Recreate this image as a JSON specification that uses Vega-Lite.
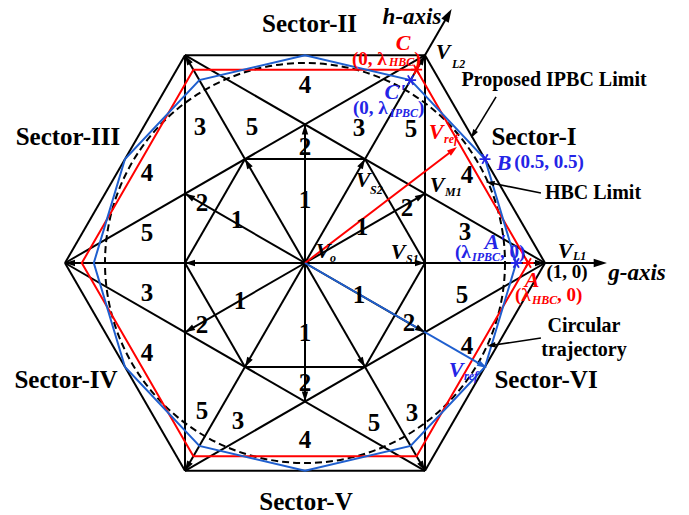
{
  "$schema": "https://vega.github.io/schema/vega-lite/v6.json",
  "width": 689,
  "height": 515,
  "autosize": "none",
  "padding": 0,
  "background": "white",
  "config": {"view": {"stroke": null}},
  "datasets": {
    "segs": [
      {"x":1,"y":0,"x2":0.5,"y2":0.866,"k":"m"},
      {"x":0.5,"y":0.866,"x2":-0.5,"y2":0.866,"k":"m"},
      {"x":-0.5,"y":0.866,"x2":-1,"y2":0,"k":"m"},
      {"x":-1,"y":0,"x2":-0.5,"y2":-0.866,"k":"m"},
      {"x":-0.5,"y":-0.866,"x2":0.5,"y2":-0.866,"k":"m"},
      {"x":0.5,"y":-0.866,"x2":1,"y2":0,"k":"m"},
      {"x":1,"y":0,"x2":-0.5,"y2":0.866,"k":"m"},
      {"x":0.5,"y":0.866,"x2":-1,"y2":0,"k":"m"},
      {"x":-0.5,"y":0.866,"x2":-0.5,"y2":-0.866,"k":"m"},
      {"x":-1,"y":0,"x2":0.5,"y2":-0.866,"k":"m"},
      {"x":-0.5,"y":-0.866,"x2":1,"y2":0,"k":"m"},
      {"x":0.5,"y":-0.866,"x2":0.5,"y2":0.866,"k":"m"},
      {"x":0.5,"y":0,"x2":0.25,"y2":0.433,"k":"m"},
      {"x":0.25,"y":0.433,"x2":-0.25,"y2":0.433,"k":"m"},
      {"x":-0.25,"y":0.433,"x2":-0.5,"y2":0,"k":"m"},
      {"x":-0.5,"y":0,"x2":-0.25,"y2":-0.433,"k":"m"},
      {"x":-0.25,"y":-0.433,"x2":0.25,"y2":-0.433,"k":"m"},
      {"x":0.25,"y":-0.433,"x2":0.5,"y2":0,"k":"m"},
      {"x":0,"y":0,"x2":-0.5,"y2":0.866,"k":"m"},
      {"x":0,"y":0,"x2":-0.5,"y2":-0.866,"k":"m"},
      {"x":0,"y":0,"x2":0.5,"y2":-0.866,"k":"m"},
      {"x":0,"y":0,"x2":0.5,"y2":0.2887,"k":"m"},
      {"x":0,"y":0,"x2":0,"y2":0.5774,"k":"m"},
      {"x":0,"y":0,"x2":-0.5,"y2":0.2887,"k":"m"},
      {"x":0,"y":0,"x2":-0.5,"y2":-0.2887,"k":"m"},
      {"x":0,"y":0,"x2":0,"y2":-0.5774,"k":"m"},
      {"x":0,"y":0,"x2":0.5,"y2":-0.2887,"k":"m"},
      {"x":-1,"y":0,"x2":1.24,"y2":0,"k":"m"},
      {"x":0,"y":0,"x2":0.602,"y2":1.043,"k":"m"},
      {"x":0.796,"y":0.692,"x2":0.7,"y2":0.535,"k":"t"},
      {"x":0.983,"y":0.292,"x2":0.77,"y2":0.334,"k":"t"},
      {"x":0.983,"y":-0.3125,"x2":0.774,"y2":-0.344,"k":"t"},
      {"x":0,"y":0,"x2":0.62,"y2":0.473,"k":"r"},
      {"x":0,"y":0,"x2":0.743,"y2":-0.429,"k":"b"}
    ],
    "heads": [
      {"x":1,"y":0,"dir":0,"k":"m"},
      {"x":0.5,"y":0.866,"dir":60,"k":"m"},
      {"x":-0.5,"y":0.866,"dir":120,"k":"m"},
      {"x":-1,"y":0,"dir":180,"k":"m"},
      {"x":-0.5,"y":-0.866,"dir":240,"k":"m"},
      {"x":0.5,"y":-0.866,"dir":300,"k":"m"},
      {"x":0.5,"y":0,"dir":0,"k":"m"},
      {"x":0.25,"y":0.433,"dir":60,"k":"m"},
      {"x":-0.25,"y":0.433,"dir":120,"k":"m"},
      {"x":-0.5,"y":0,"dir":180,"k":"m"},
      {"x":-0.25,"y":-0.433,"dir":240,"k":"m"},
      {"x":0.25,"y":-0.433,"dir":300,"k":"m"},
      {"x":0.5,"y":0.2887,"dir":30,"k":"m"},
      {"x":0,"y":0.5774,"dir":90,"k":"m"},
      {"x":-0.5,"y":0.2887,"dir":150,"k":"m"},
      {"x":-0.5,"y":-0.2887,"dir":210,"k":"m"},
      {"x":0,"y":-0.5774,"dir":270,"k":"m"},
      {"x":0.5,"y":-0.2887,"dir":330,"k":"m"},
      {"x":1.258,"y":0,"dir":0,"k":"ax"},
      {"x":0.611,"y":1.058,"dir":60,"k":"ax"},
      {"x":0.633,"y":0.483,"dir":37.3,"k":"r"},
      {"x":0.758,"y":-0.4375,"dir":330,"k":"b"},
      {"x":0.692,"y":0.521,"dir":238.7,"k":"t"},
      {"x":0.754,"y":0.3375,"dir":168.8,"k":"t"},
      {"x":0.758,"y":-0.346,"dir":188.5,"k":"t"}
    ],
    "polys": [
      {"s":"r","i":0,"x":0.93,"y":0},
      {"s":"r","i":1,"x":0.465,"y":0.8054},
      {"s":"r","i":2,"x":-0.465,"y":0.8054},
      {"s":"r","i":3,"x":-0.93,"y":0},
      {"s":"r","i":4,"x":-0.465,"y":-0.8054},
      {"s":"r","i":5,"x":0.465,"y":-0.8054},
      {"s":"r","i":6,"x":0.93,"y":0},
      {"s":"b","i":0,"x":0.88,"y":0},
      {"s":"b","i":1,"x":0.75,"y":0.433},
      {"s":"b","i":2,"x":0.44,"y":0.7621},
      {"s":"b","i":3,"x":0,"y":0.866},
      {"s":"b","i":4,"x":-0.44,"y":0.7621},
      {"s":"b","i":5,"x":-0.75,"y":0.433},
      {"s":"b","i":6,"x":-0.88,"y":0},
      {"s":"b","i":7,"x":-0.75,"y":-0.433},
      {"s":"b","i":8,"x":-0.44,"y":-0.7621},
      {"s":"b","i":9,"x":0,"y":-0.866},
      {"s":"b","i":10,"x":0.44,"y":-0.7621},
      {"s":"b","i":11,"x":0.75,"y":-0.433},
      {"s":"b","i":12,"x":0.88,"y":0}
    ],
    "stars": [
      {"x":0.93,"y":0,"c":"r"},
      {"x":0.465,"y":0.8054,"c":"r"},
      {"x":0.88,"y":0,"c":"b"},
      {"x":0.44,"y":0.7621,"c":"b"},
      {"x":0.75,"y":0.433,"c":"b"}
    ],
    "circle": [{"x":0,"y":0}],
    "texts": [
      {"x":0,"y":0.7417,"t":"4","k":"num","c":"k"},
      {"x":-0.4375,"y":0.5667,"t":"3","k":"num","c":"k"},
      {"x":-0.2208,"y":0.5667,"t":"5","k":"num","c":"k"},
      {"x":0.225,"y":0.5625,"t":"3","k":"num","c":"k"},
      {"x":0.4417,"y":0.5583,"t":"5","k":"num","c":"k"},
      {"x":0,"y":0.4833,"t":"2","k":"num","c":"k"},
      {"x":0,"y":0.2625,"t":"1","k":"num","c":"k"},
      {"x":-0.6583,"y":0.375,"t":"4","k":"num","c":"k"},
      {"x":0.675,"y":0.3667,"t":"4","k":"num","c":"k"},
      {"x":-0.4292,"y":0.25,"t":"2","k":"num","c":"k"},
      {"x":-0.2833,"y":0.1792,"t":"1","k":"num","c":"k"},
      {"x":0.425,"y":0.2292,"t":"2","k":"num","c":"k"},
      {"x":0.2375,"y":0.15,"t":"1","k":"num","c":"k"},
      {"x":-0.6583,"y":0.125,"t":"5","k":"num","c":"k"},
      {"x":0.6667,"y":0.1292,"t":"3","k":"num","c":"k"},
      {"x":-0.6583,"y":-0.125,"t":"3","k":"num","c":"k"},
      {"x":0.6542,"y":-0.1333,"t":"5","k":"num","c":"k"},
      {"x":-0.2708,"y":-0.1583,"t":"1","k":"num","c":"k"},
      {"x":0.225,"y":-0.1333,"t":"1","k":"num","c":"k"},
      {"x":-0.4292,"y":-0.2583,"t":"2","k":"num","c":"k"},
      {"x":0.4333,"y":-0.25,"t":"2","k":"num","c":"k"},
      {"x":0,"y":-0.2917,"t":"1","k":"num","c":"k"},
      {"x":-0.6583,"y":-0.375,"t":"4","k":"num","c":"k"},
      {"x":0.675,"y":-0.3458,"t":"4","k":"num","c":"k"},
      {"x":0,"y":-0.5,"t":"2","k":"num","c":"k"},
      {"x":-0.4292,"y":-0.6167,"t":"5","k":"num","c":"k"},
      {"x":-0.2792,"y":-0.6583,"t":"3","k":"num","c":"k"},
      {"x":0.4458,"y":-0.625,"t":"3","k":"num","c":"k"},
      {"x":0.2875,"y":-0.6667,"t":"5","k":"num","c":"k"},
      {"x":0,"y":-0.7375,"t":"4","k":"num","c":"k"},
      {"x":0.0188,"y":0.9958,"t":"Sector-II","k":"sec","c":"k"},
      {"x":0.9542,"y":0.525,"t":"Sector-I","k":"sec","c":"k"},
      {"x":-0.9875,"y":0.525,"t":"Sector-III","k":"sec","c":"k"},
      {"x":-0.9958,"y":-0.4875,"t":"Sector-IV","k":"sec","c":"k"},
      {"x":0.0042,"y":-0.9958,"t":"Sector-V","k":"sec","c":"k"},
      {"x":1.0042,"y":-0.4875,"t":"Sector-VI","k":"sec","c":"k"},
      {"x":1.0375,"y":0.7625,"t":"Proposed IPBC Limit","k":"note","c":"k"},
      {"x":1.2,"y":0.2917,"t":"HBC Limit","k":"note","c":"k"},
      {"x":1.1625,"y":-0.2625,"t":"Circular","k":"note","c":"k"},
      {"x":1.1625,"y":-0.3625,"t":"trajectory","k":"note","c":"k"},
      {"x":1.0917,"y":-0.0375,"t":"(1, 0)","k":"coord","c":"k"},
      {"x":1.0167,"y":0.4208,"t":"(0.5, 0.5)","k":"coord","c":"b"},
      {"x":0.4458,"y":1.025,"t":"h-axis","k":"ax","c":"k"},
      {"x":1.3833,"y":-0.0417,"t":"g-axis","k":"ax","c":"k"},
      {"x":0.575,"y":0.8792,"t":"V","k":"V","c":"k"},
      {"x":0.6125,"y":0.8292,"t":"L2","k":"sub","c":"k"},
      {"x":1.0833,"y":0.05,"t":"V","k":"V","c":"k"},
      {"x":1.1167,"y":0.029,"t":"L1","k":"sub","c":"k"},
      {"x":0.55,"y":0.325,"t":"V","k":"V","c":"k"},
      {"x":0.5833,"y":0.2958,"t":"M1","k":"sub","c":"k"},
      {"x":0.2417,"y":0.3458,"t":"V","k":"V","c":"k"},
      {"x":0.2708,"y":0.3042,"t":"S2","k":"sub","c":"k"},
      {"x":0.3875,"y":0.0458,"t":"V","k":"V","c":"k"},
      {"x":0.4208,"y":0.0167,"t":"S1","k":"sub","c":"k"},
      {"x":0.075,"y":0.05,"t":"V","k":"V","c":"k"},
      {"x":0.1042,"y":0.0208,"t":"o","k":"sub","c":"k"},
      {"x":0.5458,"y":0.5458,"t":"V","k":"V","c":"r"},
      {"x":0.5792,"y":0.5167,"t":"ref","k":"sub","c":"r"},
      {"x":0.6292,"y":-0.4458,"t":"V","k":"V","c":"b"},
      {"x":0.6625,"y":-0.4708,"t":"ref","k":"sub","c":"b"},
      {"x":0.4083,"y":0.9167,"t":"C","k":"lab","c":"r"},
      {"x":0.375,"y":0.7125,"t":"C'","k":"lab","c":"b"},
      {"x":0.7917,"y":0.0875,"t":"A'","k":"lab","c":"b"},
      {"x":0.9458,"y":-0.0708,"t":"A","k":"lab","c":"r"},
      {"x":0.8292,"y":0.4167,"t":"B","k":"lab","c":"b"},
      {"x":0.1958,"y":0.85,"t":"(0, λ","k":"pl","c":"r"},
      {"x":0.35,"y":0.8375,"t":"HBC","k":"ps","c":"r"},
      {"x":0.455,"y":0.85,"t":")","k":"pl","c":"r"},
      {"x":0.2,"y":0.6458,"t":"(0, λ","k":"pl","c":"b"},
      {"x":0.354,"y":0.625,"t":"IPBC","k":"ps","c":"b"},
      {"x":0.4708,"y":0.6458,"t":")","k":"pl","c":"b"},
      {"x":0.625,"y":0.0458,"t":"(λ","k":"pl","c":"b"},
      {"x":0.6958,"y":0.025,"t":"IPBC","k":"ps","c":"b"},
      {"x":0.8125,"y":0.0458,"t":", 0)","k":"pl","c":"b"},
      {"x":0.875,"y":-0.1333,"t":"(λ","k":"pl","c":"r"},
      {"x":0.9458,"y":-0.1542,"t":"HBC","k":"ps","c":"r"},
      {"x":1.05,"y":-0.1333,"t":", 0)","k":"pl","c":"r"}
    ]
  },
  "encoding": {
    "x": {"field":"x","type":"quantitative","scale":{"domain":[-1.2708,1.6],"nice":false,"zero":false},"axis":null},
    "y": {"field":"y","type":"quantitative","scale":{"domain":[-1.05,1.0958],"nice":false,"zero":false},"axis":null}
  },
  "layer": [
    {
      "data": {"name":"segs"},
      "transform": [{"filter":"datum.k === 'm'"}],
      "mark": {"type":"rule","color":"#000000","strokeWidth":2},
      "encoding": {"x2":{"field":"x2"},"y2":{"field":"y2"}}
    },
    {
      "data": {"name":"circle"},
      "mark": {"type":"point","shape":"circle","size":160000,"filled":false,"stroke":"#000000","strokeWidth":2,"strokeDash":[7,4],"opacity":1}
    },
    {
      "data": {"name":"polys"},
      "transform": [{"filter":"datum.s === 'r'"}],
      "mark": {"type":"line","color":"#ff0000","strokeWidth":2},
      "encoding": {"order":{"field":"i","type":"quantitative"}}
    },
    {
      "data": {"name":"polys"},
      "transform": [{"filter":"datum.s === 'b'"}],
      "mark": {"type":"line","color":"#1f5fcf","strokeWidth":2},
      "encoding": {"order":{"field":"i","type":"quantitative"}}
    },
    {
      "data": {"name":"segs"},
      "transform": [{"filter":"datum.k === 't'"}],
      "mark": {"type":"rule","color":"#000000","strokeWidth":1.6},
      "encoding": {"x2":{"field":"x2"},"y2":{"field":"y2"}}
    },
    {
      "data": {"name":"segs"},
      "transform": [{"filter":"datum.k === 'r'"}],
      "mark": {"type":"rule","color":"#ff0000","strokeWidth":2},
      "encoding": {"x2":{"field":"x2"},"y2":{"field":"y2"}}
    },
    {
      "data": {"name":"segs"},
      "transform": [{"filter":"datum.k === 'b'"}],
      "mark": {"type":"rule","color":"#1f5fcf","strokeWidth":2},
      "encoding": {"x2":{"field":"x2"},"y2":{"field":"y2"}}
    },
    {
      "data": {"name":"heads"},
      "transform": [{"filter":"datum.k === 'm'"}],
      "mark": {"type":"point","shape":"M0,0L-0.32,1L0.32,1Z","filled":true,"color":"#000000","size":400,"opacity":1},
      "encoding": {"angle":{"field":"dir","type":"quantitative","scale":{"domain":[0,360],"range":[90,-270]}}}
    },
    {
      "data": {"name":"heads"},
      "transform": [{"filter":"datum.k === 'ax'"}],
      "mark": {"type":"point","shape":"M0,0L-0.32,1L0.32,1Z","filled":true,"color":"#000000","size":700,"opacity":1},
      "encoding": {"angle":{"field":"dir","type":"quantitative","scale":{"domain":[0,360],"range":[90,-270]}}}
    },
    {
      "data": {"name":"heads"},
      "transform": [{"filter":"datum.k === 't'"}],
      "mark": {"type":"point","shape":"M0,0L-0.32,1L0.32,1Z","filled":true,"color":"#000000","size":300,"opacity":1},
      "encoding": {"angle":{"field":"dir","type":"quantitative","scale":{"domain":[0,360],"range":[90,-270]}}}
    },
    {
      "data": {"name":"heads"},
      "transform": [{"filter":"datum.k === 'r'"}],
      "mark": {"type":"point","shape":"M0,0L-0.32,1L0.32,1Z","filled":true,"color":"#ff0000","size":400,"opacity":1},
      "encoding": {"angle":{"field":"dir","type":"quantitative","scale":{"domain":[0,360],"range":[90,-270]}}}
    },
    {
      "data": {"name":"heads"},
      "transform": [{"filter":"datum.k === 'b'"}],
      "mark": {"type":"point","shape":"M0,0L-0.32,1L0.32,1Z","filled":true,"color":"#1f5fcf","size":400,"opacity":1},
      "encoding": {"angle":{"field":"dir","type":"quantitative","scale":{"domain":[0,360],"range":[90,-270]}}}
    },
    {
      "data": {"name":"stars"},
      "mark": {"type":"point","shape":"M-1,0L1,0M-0.5,-0.866L0.5,0.866M-0.5,0.866L0.5,-0.866","filled":false,"size":121,"strokeWidth":1.8,"opacity":1},
      "encoding": {"stroke":{"field":"c","type":"nominal","scale":{"domain":["k","r","b"],"range":["#000000","#ff0000","#2424e6"]},"legend":null}}
    },
    {
      "data": {"name":"texts"},
      "transform": [{"filter":"datum.k === 'num' || datum.k === 'sec'"}],
      "mark": {"type":"text","font":"Liberation Serif","fontWeight":"bold","fontSize":25,"align":"center","baseline":"middle"},
      "encoding": {"text":{"field":"t"},"color":{"field":"c","type":"nominal","scale":{"domain":["k","r","b"],"range":["#000000","#ff0000","#2424e6"]},"legend":null}}
    },
    {
      "data": {"name":"texts"},
      "transform": [{"filter":"datum.k === 'note'"}],
      "mark": {"type":"text","font":"Liberation Serif","fontWeight":"bold","fontSize":20,"align":"center","baseline":"middle"},
      "encoding": {"text":{"field":"t"},"color":{"field":"c","type":"nominal","scale":{"domain":["k","r","b"],"range":["#000000","#ff0000","#2424e6"]},"legend":null}}
    },
    {
      "data": {"name":"texts"},
      "transform": [{"filter":"datum.k === 'coord'"}],
      "mark": {"type":"text","font":"Liberation Serif","fontWeight":"bold","fontSize":19,"align":"center","baseline":"middle"},
      "encoding": {"text":{"field":"t"},"color":{"field":"c","type":"nominal","scale":{"domain":["k","r","b"],"range":["#000000","#ff0000","#2424e6"]},"legend":null}}
    },
    {
      "data": {"name":"texts"},
      "transform": [{"filter":"datum.k === 'ax'"}],
      "mark": {"type":"text","font":"Liberation Serif","fontWeight":"bold","fontStyle":"italic","fontSize":23,"align":"center","baseline":"middle"},
      "encoding": {"text":{"field":"t"},"color":{"field":"c","type":"nominal","scale":{"domain":["k","r","b"],"range":["#000000","#ff0000","#2424e6"]},"legend":null}}
    },
    {
      "data": {"name":"texts"},
      "transform": [{"filter":"datum.k === 'V' || datum.k === 'lab'"}],
      "mark": {"type":"text","font":"Liberation Serif","fontWeight":"bold","fontStyle":"italic","fontSize":22,"align":"center","baseline":"middle"},
      "encoding": {"text":{"field":"t"},"color":{"field":"c","type":"nominal","scale":{"domain":["k","r","b"],"range":["#000000","#ff0000","#2424e6"]},"legend":null}}
    },
    {
      "data": {"name":"texts"},
      "transform": [{"filter":"datum.k === 'sub' || datum.k === 'ps'"}],
      "mark": {"type":"text","font":"Liberation Serif","fontWeight":"bold","fontStyle":"italic","fontSize":12,"align":"left","baseline":"middle"},
      "encoding": {"text":{"field":"t"},"color":{"field":"c","type":"nominal","scale":{"domain":["k","r","b"],"range":["#000000","#ff0000","#2424e6"]},"legend":null}}
    },
    {
      "data": {"name":"texts"},
      "transform": [{"filter":"datum.k === 'pl'"}],
      "mark": {"type":"text","font":"Liberation Serif","fontWeight":"bold","fontSize":19,"align":"left","baseline":"middle"},
      "encoding": {"text":{"field":"t"},"color":{"field":"c","type":"nominal","scale":{"domain":["k","r","b"],"range":["#000000","#ff0000","#2424e6"]},"legend":null}}
    }
  ]
}
